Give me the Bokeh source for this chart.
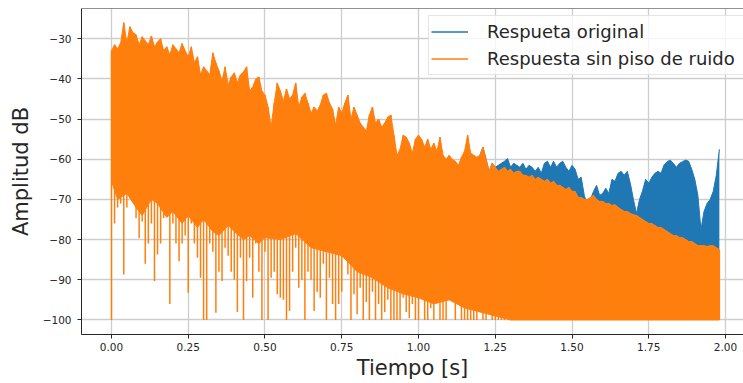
from bokeh.plotting import figure
from bokeh.models import (Range1d, FixedTicker, NumeralTickFormatter, CustomJSTickFormatter,
                          Legend, LegendItem, Span)
from bokeh.embed import file_html
from bokeh.resources import INLINE

# ---------------- data ----------------
x_ticks = [0.0, 0.25, 0.5, 0.75, 1.0, 1.25, 1.5, 1.75, 2.0]
y_ticks = [-100, -90, -80, -70, -60, -50, -40, -30]
sample_step = 0.01  # seconds between listed envelope samples (t = 0.00 ... 1.98)

# upper envelope of "Respuesta sin piso de ruido" (dB)
orange_top = [
    -33, -31.5, -32.5, -31, -26, -31, -27, -28.5, -29, -31.5,
    -29.5, -30.5, -31.5, -29.3, -32, -30.8, -30, -33, -32, -34,
    -31.5, -32.5, -33.5, -31.2, -33, -34.5, -32, -36, -34.5, -39,
    -37, -38, -39, -33.5, -36, -38, -40.5, -37, -41.5, -39.5,
    -38.5, -41, -39, -38.3, -37, -43, -42, -40, -39.5, -43,
    -44, -47, -52, -46, -41, -43, -45.5, -42.5, -45, -44,
    -41, -47, -44.5, -43.6, -46, -48.5, -47, -48, -46.5, -44,
    -43.6, -46, -47.5, -51.5, -47, -48.5, -46, -44, -50, -47,
    -49, -51, -52, -53, -49, -47, -51, -50, -52, -51,
    -49.5, -49, -54, -59, -57.5, -54, -54.5, -56, -58.5, -55,
    -54, -55, -57, -55, -57.5, -56, -58, -54.5, -59, -60,
    -59, -60, -60.5, -61.5, -59.5, -58, -54, -58.5, -59, -59.5,
    -59, -57, -60, -63, -61, -62, -63, -62.5, -62, -63,
    -62.5, -63.5, -63, -63, -64, -64, -64.5, -64, -65, -64.5,
    -65, -65.5, -65, -66, -65.5, -66.5, -66.5, -67, -67.5, -67,
    -68, -68, -69.5, -69.5, -70, -70, -69.5, -69, -70, -70.5,
    -70.5, -71, -71, -71.5, -71.3, -72, -72.5, -73, -73, -73.5,
    -73.8, -74, -74.5, -75, -75.5, -76, -76, -76.5, -77, -77,
    -77.5, -78, -78.5, -79, -79, -79.5, -79.5, -80, -80.5, -80.5,
    -81, -81.5, -81.5, -81.5, -81.7, -81.5, -81.5, -82, -82.5,
]

# deepest dip of the same signal around each sample (dB)
orange_bottom = [
    -100, -76, -72, -71, -88.7, -72, -69.7, -70.5, -74.6, -79.6,
    -75.5, -86, -81, -76, -90.3, -83.7, -81, -74.6, -73.8, -96,
    -76, -81, -85.4, -81, -79, -93.2, -76, -81, -84.5, -89.5,
    -100, -100, -81, -83, -98.2, -88, -90.3, -82, -84, -88,
    -90, -98, -84.5, -100, -90.3, -84.5, -94.5, -81, -88, -100,
    -83, -100, -89.5, -88, -93.6, -94.5, -95, -100, -97.8, -88,
    -82, -92, -90, -100, -88, -90, -97.8, -93, -94.5, -86,
    -100, -89.5, -96, -100, -96, -93, -82, -88.7, -100, -93.6,
    -98.6, -92, -100, -95.5, -100, -93, -100, -96, -100, -98,
    -95, -100, -100, -100, -100, -94.5, -98, -99.5, -96, -100,
    -100, -93, -100, -100, -97, -100, -88, -100, -100, -100,
    -90, -94, -100, -94, -100, -100, -100, -100, -100, -100,
    -95, -100, -100, -88, -100, -100, -100, -100, -100, -97.5,
    -100, -98.5, -100, -100, -100, -100, -100, -100, -100, -100,
    -100, -100, -100, -100, -100, -100, -100, -100, -100, -100,
    -100, -100, -100, -100, -100, -100, -100, -100, -100, -100,
    -100, -100, -100, -100, -100, -100, -100, -100, -100, -100,
    -100, -100, -100, -100, -100, -100, -100, -100, -100, -100,
    -100, -100, -100, -100, -100, -100, -100, -100, -100, -100,
    -100, -100, -100, -100, -100, -100, -100, -100, -100,
]

# ragged level down to which the orange trace is solid (dB)
floor_t = [0.0, 0.02, 0.05, 0.08, 0.10, 0.13, 0.15, 0.18, 0.20, 0.23, 0.25, 0.28, 0.30,
           0.33, 0.35, 0.38, 0.40, 0.43, 0.45, 0.48, 0.50, 0.55, 0.60, 0.65, 0.70, 0.75,
           0.80, 0.85, 0.90, 0.95, 1.00, 1.05, 1.10, 1.15, 1.20, 1.25, 1.30, 1.98]
floor_db = [-65.5, -70, -68.5, -72, -74, -70, -71, -74.5, -73, -76, -74, -77, -75,
            -78, -79, -76.5, -78, -80, -79, -81, -79.5, -80, -78.5, -82, -83, -84,
            -88, -89.5, -92, -93.5, -94.5, -96, -95, -97, -98, -99, -100, -100]

# "Respueta original": identical to the processed one up to 1.20 s, then the noise floor
blue_tail_start = 120  # sample index of 1.20 s
blue_tail = [
    -59, -57, -60, -63, -61, -62, -61.5, -61, -60.5, -59.8,
    -62, -61, -61.5, -62, -61, -62.5, -61.5, -62, -63, -62,
    -63.5, -61, -60.5, -62, -60.5, -62, -61, -60.5, -62, -63,
    -61.5, -62.5, -65, -64.5, -69, -71.5, -70, -68, -66.5, -69,
    -68.5, -67.2, -68.5, -65, -65.5, -63.5, -63, -64, -63, -66,
    -70, -73.5, -70, -67.8, -65, -66, -64.5, -63.5, -63, -63.5,
    -61.4, -60.6, -60.2, -61, -62, -61, -60.6, -60.2, -60.5, -62.5,
    -65, -69, -77.5, -73, -71, -70, -68, -64, -57.5,
]

n = min(len(orange_top), len(orange_bottom))
t = [round(i * sample_step, 2) for i in range(n)]
o_top = orange_top[:n]
o_bot = orange_bottom[:n]
blue_full = (orange_top[:blue_tail_start] + blue_tail)[:n]
tb = t[blue_tail_start:len(blue_full)]
b_top = blue_full[blue_tail_start:]
b_base = o_top[blue_tail_start:len(blue_full)]

# ---------------- figure ----------------
FONT = "DejaVu Sans"
TXT = "#262626"
ORANGE = "#ff7f0e"
BLUE = "#1f77b4"
x0, x1 = -0.0977, 2.0586
y0, y1 = -103.62, -22.48

p = figure(width=743, height=382, output_backend="svg", toolbar_location=None,
           x_range=Range1d(x0, x1), y_range=Range1d(y0, y1),
           min_border_left=81, min_border_right=0, min_border_top=8, min_border_bottom=47,
           background_fill_color="white", border_fill_color="white")
p.outline_line_color = None

# grid
for g in (p.xgrid, p.ygrid):
    g.grid_line_color = "#cdcdcd"
    g.grid_line_width = 1.3

# original response (only the part above the processed one is visible)
p.varea(x=tb, y1=b_base, y2=b_top, fill_color=BLUE)
p.line(x=tb, y=b_top, line_color=BLUE, line_width=1)

# processed response: solid body + dips
p.patch(x=t + floor_t[::-1], y=o_top + floor_db[::-1], fill_color=ORANGE, line_color=ORANGE,
        line_width=1)
p.segment(x0=t, y0=o_top, x1=t, y1=o_bot, line_color=ORANGE, line_width=1.5)

# top spine
p.add_layout(Span(location=y1, dimension="width", line_color=TXT, line_width=1))

# axes
p.xaxis.ticker = FixedTicker(ticks=x_ticks)
p.yaxis.ticker = FixedTicker(ticks=y_ticks)
p.xaxis.formatter = NumeralTickFormatter(format="0.00")
p.yaxis.formatter = CustomJSTickFormatter(
    code="return (tick < 0 ? '\u2212' : '') + Math.abs(tick).toFixed(0);")
for ax in (p.xaxis, p.yaxis):
    ax.axis_line_color = TXT
    ax.axis_line_width = 1
    ax.major_tick_line_color = TXT
    ax.major_tick_out = 4
    ax.major_tick_in = 0
    ax.minor_tick_line_color = None
    ax.major_label_text_font = FONT
    ax.major_label_text_font_size = "10.5px"
    ax.major_label_text_color = TXT
    ax.axis_label_text_font = FONT
    ax.axis_label_text_font_size = "21px"
    ax.axis_label_text_font_style = "normal"
    ax.axis_label_text_color = TXT
p.xaxis.axis_label = "Tiempo [s]"
p.yaxis.axis_label = "Amplitud dB"
p.xaxis.major_label_standoff = 4
p.xaxis.axis_label_standoff = 2
p.yaxis.major_label_standoff = 6
p.yaxis.axis_label_standoff = 7

# legend (handles drawn from off-screen dummy lines)
lb = p.line(x=[-5, -4], y=[-50, -50], line_color=BLUE, line_width=1.5)
lo = p.line(x=[-5, -4], y=[-50, -50], line_color=ORANGE, line_width=1.5)
legend = Legend(items=[LegendItem(label="Respueta original", renderers=[lb]),
                       LegendItem(label="Respuesta sin piso de ruido", renderers=[lo])],
                location=(347, 259), margin=0, padding=2, spacing=0,
                glyph_width=37, glyph_height=27, label_height=27, label_width=254,
                label_standoff=19,
                label_text_font=FONT, label_text_font_size="18px", label_text_color=TXT,
                border_line_color="#cccccc", border_line_width=1,
                background_fill_color="white", background_fill_alpha=0.8)
p.add_layout(legend)

open("out.html", "w").write(file_html(p, INLINE))
